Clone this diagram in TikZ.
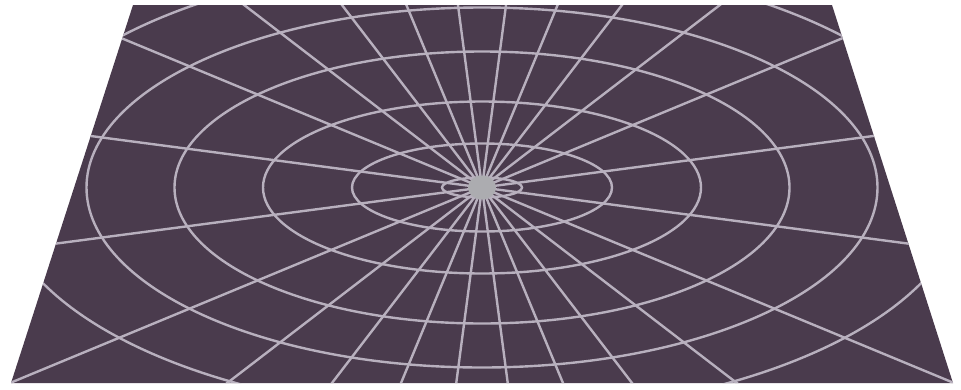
\documentclass[tikz,border=0pt]{standalone}
\begin{document}
\begin{tikzpicture}[x=1pt,y=-1pt]
\definecolor{plane}{RGB}{74,59,77}
\definecolor{grid}{RGB}{184,176,190}
\definecolor{hub}{RGB}{172,172,176}
\tikzset{gridline/.style={draw=grid,line width=2.4pt}}
\useasboundingbox (0,0) rectangle (961,389);
\coordinate (c) at (482,187.5);
\coordinate (tl) at (133,5);
\coordinate (tr) at (832,5);
\coordinate (br) at (953,383);
\coordinate (bl) at (11,383);
\fill[plane] (tl) -- (tr) -- (br) -- (bl) -- cycle;
\begin{scope}
\clip (tl) -- (tr) -- (br) -- (bl) -- cycle;
\foreach \ra/\rb in {40/10,130/44,219/86,307.5/136,395.5/180,484/227}
  \draw[gridline] (c) ellipse [x radius=\ra pt, y radius=\rb pt];
\foreach \k in {0,...,23}
  \draw[gridline] (c) -- ++({7.5+15*\k}:700);
\fill[hub] (c) ellipse [x radius=14pt, y radius=12pt];
\end{scope}
\end{tikzpicture}
\end{document}
